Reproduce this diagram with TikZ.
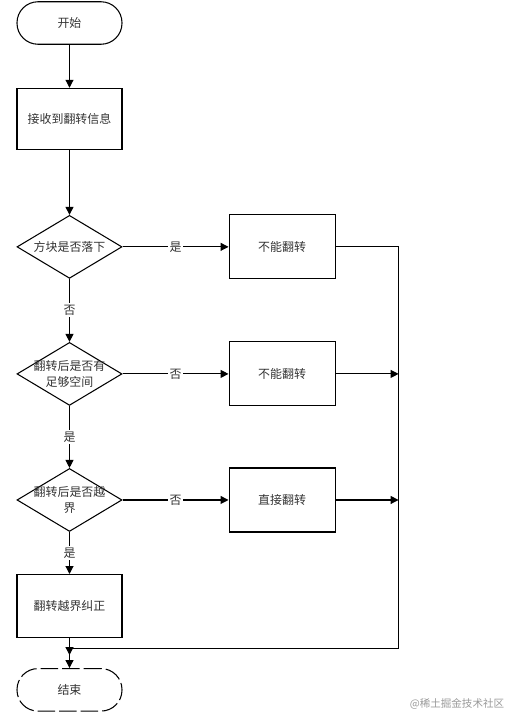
\documentclass[tikz,border=0pt]{standalone}
\usepackage{fontspec}
\newfontfamily\cjk{Noto Sans CJK SC}
\usepackage{tikz}
\usetikzlibrary{positioning,arrows.meta,shapes.geometric,calc}

\begin{document}
\begin{tikzpicture}[
  font=\cjk\fontsize{6.8}{8.6}\selectfont,
  every node/.style={align=center, text=black!80},
  line width=0.6pt,
  term/.style={draw, rounded corners=0.42cm, minimum width=2.1cm, minimum height=0.85cm},
  proc/.style={draw, minimum width=2.1cm, minimum height=1.26cm},
  side/.style={draw, minimum width=2.12cm, minimum height=1.28cm},
  dec/.style={draw, diamond, inner sep=0pt, minimum width=2.1cm, minimum height=1.26cm},
  every label/.style={align=center, text=black!80},
  arr/.style={-{Triangle[length=1.6mm,width=1.6mm]}},
  lbl/.style={fill=white, inner sep=1pt}
]
\useasboundingbox (-1.39,0.46) rectangle (8.79,-13.88);

\node[term] (start) {开始};
\node[proc, minimum height=1.22cm, below=0.86cm of start] (recv) {接收到翻转信息};
\node[dec, below=1.3cm of recv, label={center:方块是否落下}] (fall) {};
\node[dec, below=1.26cm of fall, label={center:翻转后是否有\\足够空间}] (room) {};
\node[dec, below=1.24cm of room, label={center:翻转后是否越\\界}] (edge) {};
\node[proc, below=0.84cm of edge] (fix) {翻转越界纠正};
\node[term, dashed, dash pattern=on 3.5mm off 0.8mm, below=0.6cm of fix] (stop) {结束};

\node[side, right=2.12cm of fall] (no1) {不能翻转};
\node[side, right=2.12cm of room] (no2) {不能翻转};
\node[side, right=2.12cm of edge] (turn) {直接翻转};

\coordinate (rt) at ($(no1.east)+(1.26,0)$);
\coordinate (mg) at ($(fix.south)+(0,-0.2)$);

\draw[arr] (start) -- (recv);
\draw[arr] (recv) -- (fall);
\draw[arr] (fall) -- node[lbl]{否} (room);
\draw[arr] (room) -- node[lbl]{是} (edge);
\draw[arr] (edge) -- node[lbl]{是} (fix);
\draw[arr, shorten >=0.26cm] (fix) -- (stop);

\draw[arr] (fall) -- node[lbl]{是} (no1);
\draw[arr] (room) -- node[lbl]{否} (no2);
\draw[arr] (edge) -- node[lbl]{否} (turn);

\draw (no1.east) -- (rt) -- (rt |- mg) -- (mg);
\draw[arr] (mg) -- (stop.north);
\draw[arr] (no2.east) -- (no2.east -| rt);
\draw[arr] (turn.east) -- (turn.east -| rt);

\node[text=black!40, font=\cjk\fontsize{6}{7}\selectfont] (wm) at (7.75,-13.62) {@稀土掘金技术社区};
\end{tikzpicture}
\end{document}
